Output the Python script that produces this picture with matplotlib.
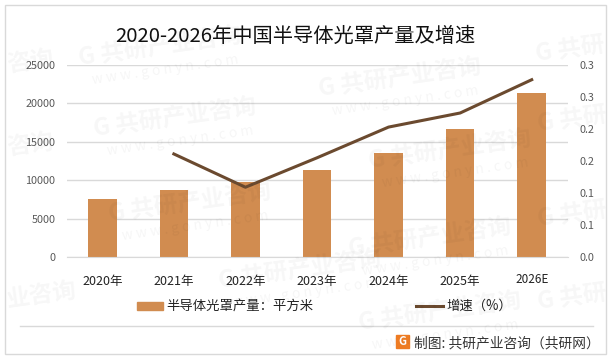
import matplotlib
matplotlib.use('Agg')
import matplotlib.pyplot as plt
from matplotlib.patches import Rectangle

plt.rcParams['font.family'] = ['Noto Sans CJK SC', 'DejaVu Sans']

years = ['2020年', '2021年', '2022年', '2023年', '2024年', '2025年', '2026E']
output = [7550, 8720, 9770, 11330, 13540, 16670, 21350]
growth = [None, 0.161, 0.109, 0.155, 0.203, 0.225, 0.277]
left_ticks = [0, 5000, 10000, 15000, 20000, 25000]
right_ticks = [0, 0.05, 0.10, 0.15, 0.20, 0.25, 0.30]
right_labels = ['0.0', '0.1', '0.1', '0.2', '0.2', '0.3', '0.3']

W, H = 615, 362
bar_color = '#D18C50'
line_color = '#6B4A2F'
grid_color = '#D9D9D9'

fig = plt.figure(figsize=(W / 100, H / 100), dpi=100)

def fx(x):
    return x / W

def fy(y):
    return 1 - y / H

# outer frame
fig.add_artist(Rectangle((fx(5), fy(354)), fx(601), 349 / H, fill=False,
                         edgecolor='#D9D9D9', linewidth=1, transform=fig.transFigure))

ax = fig.add_axes([fx(66.5), fy(257), fx(501), 192 / H])
ax.patch.set_alpha(0)
ax.bar(range(7), output, width=0.4, color=bar_color, zorder=2)
ax.set_xlim(-0.5, 6.5)
ax.set_ylim(0, 25000)
ax.set_yticks(left_ticks)
ax.yaxis.grid(True, color=grid_color, linewidth=1)
ax.set_axisbelow(True)
ax.set_xticks(range(7))
ax.set_xticklabels(years, fontsize=9, color='#222222')
ax.tick_params(axis='x', length=0, pad=13)
ax.tick_params(axis='y', length=0, pad=8, labelsize=7.8, labelcolor='#595959')
ax.get_xticklabels()[-1].set_fontsize(8.5)
ax.get_xticklabels()[-1].set_y(0.012)
for s in ['top', 'left', 'right']:
    ax.spines[s].set_visible(False)
ax.spines['bottom'].set_color(grid_color)

ax2 = ax.twinx()
ax2.patch.set_alpha(0)
ax2.plot(range(1, 7), growth[1:], color=line_color, linewidth=2.2, zorder=3)
ax2.set_ylim(0, 0.30)
ax2.set_yticks(right_ticks)
ax2.set_yticklabels(right_labels)
ax2.tick_params(axis='y', length=0, pad=9, labelsize=7.8, labelcolor='#595959')
for s in ['top', 'left', 'right', 'bottom']:
    ax2.spines[s].set_visible(False)

fig.text(fx(295), fy(36), '2020-2026年中国半导体光罩产量及增速', fontsize=14.6,
         color='#111111', ha='center', va='center')

# legend
fig.add_artist(Rectangle((fx(137), fy(310)), fx(26), 8 / H, color=bar_color,
                         transform=fig.transFigure))
fig.text(fx(166), fy(306), '半导体光罩产量：平方米', fontsize=9.6, color='#222222', va='center')
fig.add_artist(plt.Line2D([fx(416), fx(443)], [fy(306), fy(306)], color=line_color,
                          linewidth=2.2, transform=fig.transFigure))
fig.text(fx(446), fy(306), '增速（%）', fontsize=9.6, color='#222222', va='center')

# source strip
fig.add_artist(plt.Line2D([fx(20), fx(593)], [fy(326), fy(326)], color='#D9D9D9',
                          linewidth=1, transform=fig.transFigure))
fig.add_artist(Rectangle((fx(396), fy(348)), fx(13), 13 / H, color='#EE7B22',
                         transform=fig.transFigure))
fig.text(fx(402.5), fy(341.5), 'G', fontsize=8, fontweight='bold', color='white',
         ha='center', va='center')
fig.text(fx(414), fy(343), '制图: 共研产业咨询（共研网）', fontsize=9.9, color='#333333', va='center')

# watermark, the ones at the edges only show in part
marks = [(160, 47, 'G 共研产业咨询'), (175, 118, 'G 共研产业咨询'), (400, 78, 'G 共研产业咨询'),
         (190, 203, 'G 共研产业咨询'), (450, 150, 'G 共研产业咨询'), (430, 238, 'G 共研产业咨询'),
         (300, 270, 'G 共研产业咨询'), (440, 312, 'G 共研产业咨询'), (30, 62, '咨询'), (30, 145, '咨询'),
         (42, 295, '业咨询'), (570, 50, 'G 共研'), (572, 120, 'G 共研'), (572, 215, 'G 共研'),
         (572, 298, 'G 共研')]
for mx, my, mark in marks:
    fig.text(fx(mx), fy(my), mark, fontsize=17, fontweight='bold', color='#000000',
             alpha=0.035, rotation=8, ha='center', va='center')
    if len(mark) > 5:
        fig.text(fx(mx + 5), fy(my + 23), 'w w w . g o n y n . c o m', fontsize=10, color='#000000',
                 alpha=0.04, rotation=8, ha='center', va='center')

fig.savefig('out.png', dpi=100)
